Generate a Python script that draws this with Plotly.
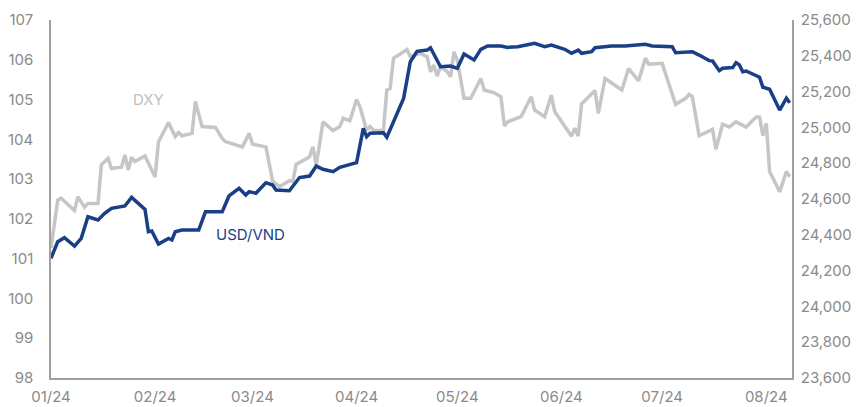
import plotly.graph_objects as go

dxy_dates = [
    "2024-01-01", "2024-01-03", "2024-01-04", "2024-01-08", "2024-01-09", "2024-01-11", "2024-01-12",
    "2024-01-15", "2024-01-16", "2024-01-18", "2024-01-19", "2024-01-22", "2024-01-23", "2024-01-24",
    "2024-01-25", "2024-01-26", "2024-01-29", "2024-02-01", "2024-02-02", "2024-02-05", "2024-02-07",
    "2024-02-08", "2024-02-09", "2024-02-12", "2024-02-13", "2024-02-15", "2024-02-19", "2024-02-21",
    "2024-02-22", "2024-02-27", "2024-02-29", "2024-03-01", "2024-03-05", "2024-03-07", "2024-03-09",
    "2024-03-12", "2024-03-13", "2024-03-14", "2024-03-18", "2024-03-19", "2024-03-20", "2024-03-22",
    "2024-03-25", "2024-03-27", "2024-03-28", "2024-03-30", "2024-04-01", "2024-04-02", "2024-04-04",
    "2024-04-05", "2024-04-06", "2024-04-09", "2024-04-10", "2024-04-11", "2024-04-12", "2024-04-16",
    "2024-04-17", "2024-04-20", "2024-04-22", "2024-04-23", "2024-04-24", "2024-04-25", "2024-04-26",
    "2024-04-28", "2024-04-29", "2024-04-30", "2024-05-01", "2024-05-03", "2024-05-05", "2024-05-08",
    "2024-05-09", "2024-05-12", "2024-05-14", "2024-05-15", "2024-05-16", "2024-05-20", "2024-05-23",
    "2024-05-24", "2024-05-27", "2024-05-29", "2024-05-30", "2024-05-31", "2024-06-03", "2024-06-04",
    "2024-06-05", "2024-06-06", "2024-06-07", "2024-06-11", "2024-06-12", "2024-06-14", "2024-06-19",
    "2024-06-21", "2024-06-24", "2024-06-26", "2024-06-27", "2024-07-01", "2024-07-05", "2024-07-08",
    "2024-07-09", "2024-07-10", "2024-07-12", "2024-07-16", "2024-07-17", "2024-07-19", "2024-07-21",
    "2024-07-23", "2024-07-26", "2024-07-29", "2024-07-30", "2024-07-31", "2024-08-01", "2024-08-02",
    "2024-08-05", "2024-08-07", "2024-08-08",
]
dxy_values = [
    101.27, 102.47, 102.52, 102.21, 102.56, 102.29, 102.39,
    102.39, 103.36, 103.52, 103.27, 103.30, 103.61, 103.23,
    103.55, 103.44, 103.58, 103.05, 103.94, 104.42, 104.07,
    104.17, 104.09, 104.15, 104.95, 104.32, 104.30, 104.02,
    103.94, 103.81, 104.15, 103.88, 103.81, 102.95, 102.81,
    102.96, 102.94, 103.37, 103.56, 103.81, 103.35, 104.44,
    104.22, 104.32, 104.53, 104.47, 105.00, 104.82, 104.23,
    104.32, 104.23, 104.22, 105.24, 105.28, 106.04, 106.26,
    106.08, 106.16, 106.08, 105.70, 105.87, 105.59, 105.83,
    105.70, 105.57, 106.20, 105.99, 105.03, 105.03, 105.53,
    105.24, 105.17, 105.07, 104.34, 104.44, 104.57, 105.07,
    104.74, 104.57, 105.11, 104.70, 104.57, 104.17, 104.08,
    104.28, 104.08, 104.89, 105.23, 104.65, 105.53, 105.24,
    105.78, 105.47, 106.04, 105.89, 105.91, 104.88, 105.03,
    105.13, 105.07, 104.09, 104.25, 103.75, 104.38, 104.31,
    104.44, 104.31, 104.56, 104.56, 104.09, 104.40, 103.19,
    102.68, 103.19, 103.06,
]

vnd_dates = [
    "2024-01-01", "2024-01-03", "2024-01-05", "2024-01-08", "2024-01-10", "2024-01-12", "2024-01-15",
    "2024-01-17", "2024-01-19", "2024-01-23", "2024-01-25", "2024-01-29", "2024-01-30", "2024-01-31",
    "2024-02-02", "2024-02-05", "2024-02-06", "2024-02-07", "2024-02-09", "2024-02-14", "2024-02-16",
    "2024-02-21", "2024-02-23", "2024-02-26", "2024-02-28", "2024-02-29", "2024-03-02", "2024-03-05",
    "2024-03-07", "2024-03-08", "2024-03-12", "2024-03-15", "2024-03-18", "2024-03-20", "2024-03-22",
    "2024-03-25", "2024-03-27", "2024-03-30", "2024-04-01", "2024-04-03", "2024-04-04", "2024-04-05",
    "2024-04-09", "2024-04-10", "2024-04-15", "2024-04-17", "2024-04-19", "2024-04-22", "2024-04-23",
    "2024-04-26", "2024-04-29", "2024-05-01", "2024-05-03", "2024-05-06", "2024-05-08", "2024-05-10",
    "2024-05-14", "2024-05-16", "2024-05-19", "2024-05-24", "2024-05-27", "2024-05-29", "2024-06-02",
    "2024-06-04", "2024-06-06", "2024-06-07", "2024-06-10", "2024-06-11", "2024-06-16", "2024-06-20",
    "2024-06-26", "2024-06-28", "2024-07-04", "2024-07-05", "2024-07-10", "2024-07-12", "2024-07-15",
    "2024-07-16", "2024-07-18", "2024-07-19", "2024-07-22", "2024-07-23", "2024-07-24", "2024-07-25",
    "2024-07-26", "2024-07-30", "2024-07-31", "2024-08-02", "2024-08-05", "2024-08-07", "2024-08-08",
]
vnd_values = [
    24269, 24361, 24384, 24337, 24380, 24501, 24483,
    24520, 24548, 24561, 24609, 24542, 24417, 24421,
    24348, 24380, 24371, 24417, 24427, 24427, 24529,
    24529, 24617, 24660, 24622, 24641, 24632, 24691,
    24678, 24650, 24646, 24720, 24728, 24784, 24766,
    24753, 24777, 24794, 24803, 24995, 24948, 24967,
    24970, 24945, 25162, 25367, 25425, 25432, 25445,
    25339, 25343, 25330, 25410, 25377, 25436, 25455,
    25455, 25447, 25451, 25470, 25451, 25460, 25436,
    25414, 25432, 25414, 25423, 25445, 25455, 25455,
    25464, 25455, 25451, 25417, 25423, 25404, 25373,
    25371, 25317, 25330, 25334, 25362, 25349, 25311,
    25315, 25280, 25224, 25213, 25097, 25163, 25138,
]

left_ticks = [98, 99, 100, 101, 102, 103, 104, 105, 106, 107]
right_ticks = [23600, 23800, 24000, 24200, 24400, 24600, 24800, 25000, 25200, 25400, 25600]

GRAY_LINE = "#C6C6C6"
BLUE = "#1A3F86"
TICK_COLOR = "#8A8A8A"
AXIS_COLOR = "#A0A0A0"
FONT = "Inter"

fig = go.Figure()
fig.add_trace(go.Scatter(x=dxy_dates, y=dxy_values, mode="lines", name="DXY",
                         line=dict(color=GRAY_LINE, width=3.5), yaxis="y"))
fig.add_trace(go.Scatter(x=vnd_dates, y=vnd_values, mode="lines", name="USD/VND",
                         line=dict(color=BLUE, width=3.5), yaxis="y2"))

fig.add_annotation(x="2024-01-30", y=105.0, xref="x", yref="y", text="DXY", showarrow=False,
                   font=dict(family=FONT, size=15, color="#C0C0C0"))
fig.add_annotation(x="2024-02-29 12:00", y=101.6, xref="x", yref="y", text="USD/VND", showarrow=False,
                   font=dict(family=FONT, size=15, color=BLUE))

fig.update_layout(
    width=861, height=407,
    margin=dict(l=51, r=69, t=20, b=29),
    paper_bgcolor="white", plot_bgcolor="white",
    showlegend=False,
    font=dict(family=FONT, size=15, color=TICK_COLOR),
    xaxis=dict(
        type="date", range=["2024-01-01", "2024-08-08 16:00"],
        tickformat="%m/%y", dtick="M1", tick0="2024-01-01",
        showgrid=False, zeroline=False, automargin=False,
        showline=True, linecolor=AXIS_COLOR, linewidth=1.5,
        ticks="", ticklabelstandoff=4,
        tickfont=dict(family=FONT, size=15, color=TICK_COLOR),
    ),
    yaxis=dict(
        range=[98, 107], tickvals=left_ticks,
        showgrid=False, zeroline=False, automargin=False,
        showline=True, linecolor=AXIS_COLOR, linewidth=1.5,
        ticks="", ticklabelstandoff=13,
        tickfont=dict(family=FONT, size=15, color=TICK_COLOR),
    ),
    yaxis2=dict(
        range=[23600, 25600], tickvals=right_ticks, tickformat=",",
        overlaying="y", side="right",
        showgrid=False, zeroline=False, automargin=False,
        showline=True, linecolor=AXIS_COLOR, linewidth=1.5,
        ticks="", ticklabelstandoff=4,
        tickfont=dict(family=FONT, size=15, color=TICK_COLOR),
    ),
)

fig.write_html("out.html")
